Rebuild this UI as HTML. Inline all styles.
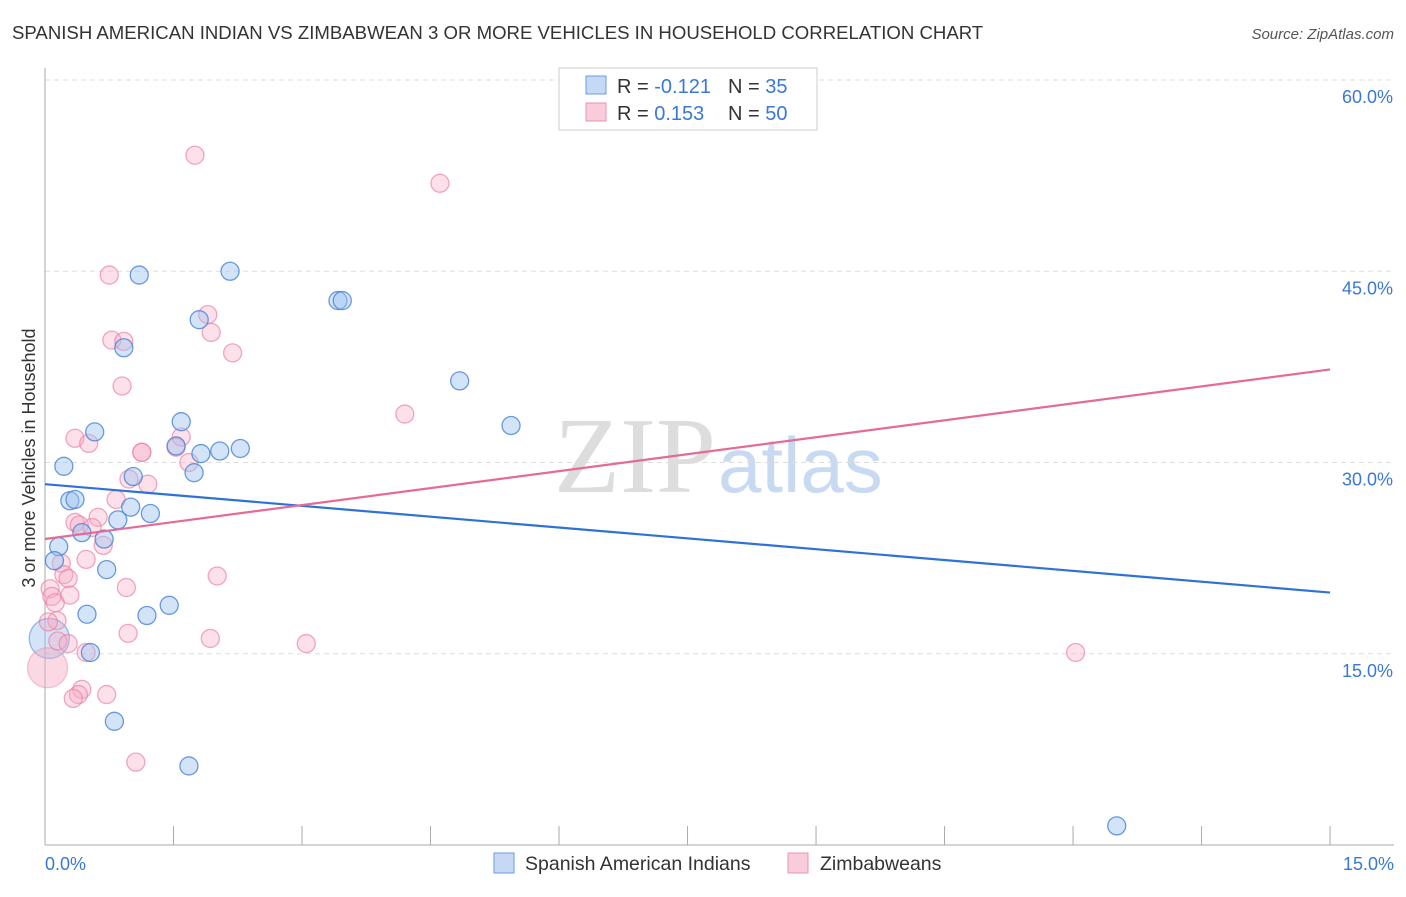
<!DOCTYPE html>
<html><head><meta charset="utf-8"><style>
body{margin:0;background:#fff;font-family:"Liberation Sans",sans-serif;}
</style></head><body>
<svg width="1406" height="892" xmlns="http://www.w3.org/2000/svg">
<text x="12" y="39" font-size="18.6" fill="#333">SPANISH AMERICAN INDIAN VS ZIMBABWEAN 3 OR MORE VEHICLES IN HOUSEHOLD CORRELATION CHART</text>
<text x="1394" y="39" font-size="15" fill="#555" font-style="italic" text-anchor="end">Source: ZipAtlas.com</text>
<text x="716" y="492" font-size="108" fill="#ddd" text-anchor="end" font-family="Liberation Serif,serif">ZIP</text>
<text x="718" y="492" font-size="78" fill="#c8daf2">atlas</text>
<g id="grid"></g><g id="axes"></g><g id="pts"></g><g id="lines"></g>
<text x="35" y="458" font-size="18" fill="#333" text-anchor="middle" transform="rotate(-90 35 458)">3 or more Vehicles in Household</text>
<text x="45" y="870" font-size="18" fill="#3a78d6">0.0%</text>
<text x="1394" y="870" font-size="18" fill="#3a78d6" text-anchor="end">15.0%</text>
<g>
<rect x="559" y="68" width="258" height="62" fill="#fff" stroke="#ccc"/>
<rect x="586" y="76" width="20" height="18" fill="#c5d9f4" stroke="#6a9be0"/>
<rect x="586" y="103" width="20" height="18" fill="#f9ccd9" stroke="#ec93b0"/>
<text x="617" y="93" font-size="20" fill="#333">R = <tspan fill="#3a78d6">-0.121</tspan><tspan x="728">N = </tspan><tspan fill="#3a78d6">35</tspan></text>
<text x="617" y="120" font-size="20" fill="#333">R = <tspan fill="#3a78d6"> 0.153</tspan><tspan x="728">N = </tspan><tspan fill="#3a78d6">50</tspan></text>
</g>
<g>
<rect x="494" y="853" width="20" height="20" fill="#c5d9f4" stroke="#6a9be0"/>
<text x="525" y="870" font-size="19.5" fill="#333">Spanish American Indians</text>
<rect x="788" y="853" width="20" height="20" fill="#f9ccd9" stroke="#ec93b0"/>
<text x="820" y="870" font-size="19.5" fill="#333">Zimbabweans</text>
</g>
</svg>
<script>
const yTicks=[15,30,45,60];
const xTicks=[0,1.5,3,4.5,6,7.5,9,10.5,12,13.5,15];
const bluePx=[[139,275],[230,271],[199,320],[338,300],[342,300],[124,348],[460,381],[511,426],[95,432],[181,422],[176,446],[201,454],[220,451],[240,448],[64,466],[194,473],[133,477],[70,501],[75,499],[131,507],[118,520],[150,513],[82,533],[104,539],[59,547],[54,561],[107,569],[169,605],[87,614],[147,615],[90,652],[114,721],[189,766],[1117,826]];
const pinkPx=[[195,155],[440,183],[109,275],[208,314],[211,332],[112,340],[124,341],[233,353],[122,386],[405,414],[181,437],[75,438],[89,444],[142,452],[176,447],[189,462],[129,479],[148,484],[116,499],[98,517],[75,522],[79,525],[92,527],[103,545],[86,559],[61,563],[64,575],[68,578],[126,588],[217,576],[50,589],[52,596],[55,603],[70,595],[57,620],[48,622],[58,641],[68,643],[128,633],[210,639],[306,644],[1076,652],[86,652],[82,690],[78,694],[73,699],[107,694],[136,762],[142,452]];
const blueX=bluePx.map(p=>+((p[0]-45)/85.67).toFixed(2));
const blueY=bluePx.map(p=>+((845-p[1])/12.75).toFixed(1));
const pinkX=pinkPx.map(p=>+((p[0]-45)/85.67).toFixed(2));
const pinkY=pinkPx.map(p=>+((845-p[1])/12.75).toFixed(1));
const blueBig=[[0.05,16.2]];
const pinkBig=[[0.03,13.9]];
const blueTrend=[28.3,19.8];
const pinkTrend=[24.0,37.3];
const sx=v=>45+v*85.67, sy=v=>845-v*12.75;
const NS='http://www.w3.org/2000/svg';
function mk(t,a,parent){const e=document.createElementNS(NS,t);for(const k in a)e.setAttribute(k,a[k]);document.getElementById(parent).appendChild(e);return e;}
yTicks.forEach(t=>{
const l=mk('line',{x1:45,x2:1394,y1:sy(t),y2:sy(t),stroke:'#ddd','stroke-dasharray':'5,4'},'grid');


const tx=mk('text',{x:1393,y:sy(t)+23,'font-size':18,fill:'#3a78d6','text-anchor':'end'},'grid');tx.textContent=t.toFixed(1)+'%';


});
const ax=mk('line',{x1:45,x2:45,y1:68,y2:845,stroke:'#aaa'},'axes');


const bx=mk('line',{x1:45,x2:1394,y1:845,y2:845,stroke:'#aaa'},'axes');


xTicks.forEach(t=>{const l=mk('line',{x1:sx(t),x2:sx(t),y1:826,y2:845,stroke:'#aaa'},'axes');

});
function dot(x,y,r,fill,stroke,name){const c=mk('circle',{cx:sx(x),cy:sy(y),r:r,fill:fill,stroke:stroke,'stroke-width':1.3},'pts');

}
blueBig.forEach(p=>dot(p[0],p[1],20,'rgba(160,195,240,0.45)','rgba(80,140,220,0.6)','blue-point'));
pinkBig.forEach(p=>dot(p[0],p[1],20,'rgba(245,170,195,0.45)','rgba(236,140,170,0.5)','pink-point'));
pinkX.forEach((x,i)=>dot(x,pinkY[i],9,'rgba(245,170,195,0.35)','rgba(236,130,165,0.7)','pink-point'));
blueX.forEach((x,i)=>dot(x,blueY[i],9,'rgba(160,195,240,0.45)','rgba(70,130,215,0.8)','blue-point'));
const bl=mk('line',{x1:sx(0),y1:sy(blueTrend[0]),x2:sx(15),y2:sy(blueTrend[1]),stroke:'#2f72d4','stroke-width':2.2},'lines');


const pl=mk('line',{x1:sx(0),y1:sy(pinkTrend[0]),x2:sx(15),y2:sy(pinkTrend[1]),stroke:'#e56a95','stroke-width':2.2},'lines');


</script>
</body></html>
